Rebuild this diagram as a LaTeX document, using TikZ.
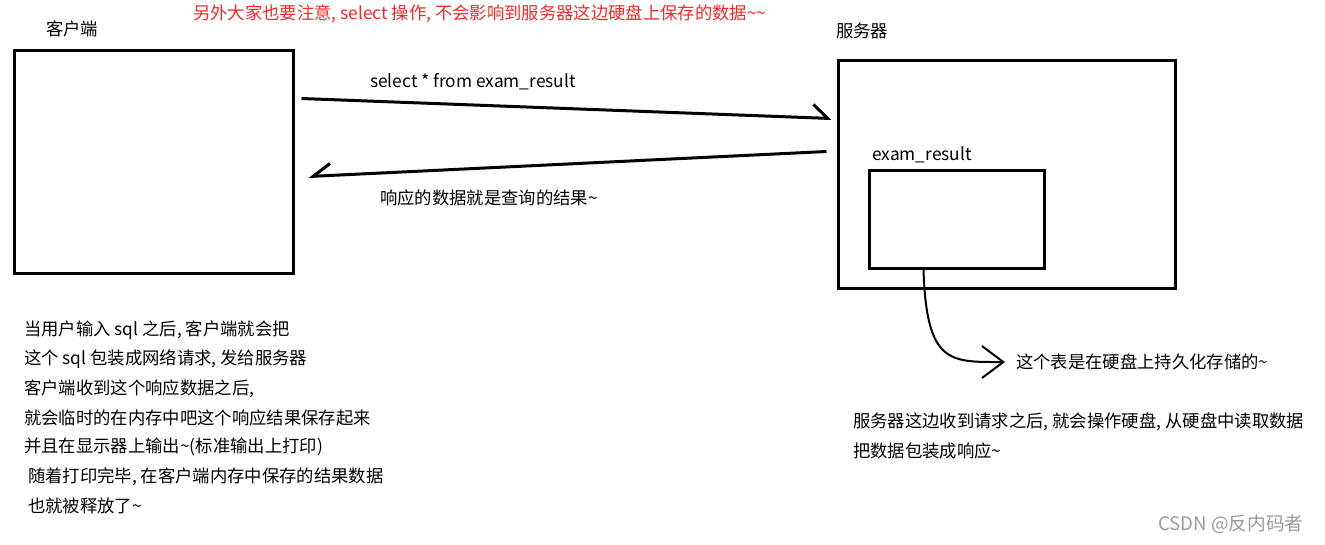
\documentclass[tikz,border=0pt]{standalone}
\usepackage{fontspec}
\setmainfont{Noto Sans CJK SC}
\usetikzlibrary{arrows.meta,calc}
\definecolor{notered}{HTML}{F02828}
\definecolor{markgray}{HTML}{9A9A9A}
\newcommand{\tildechar}{\textasciitilde}

\begin{document}
\begin{tikzpicture}[x=0.75pt, y=-0.75pt,
  every node/.style={font=\fontsize{13}{15}\selectfont, inner sep=0pt},
  box/.style={draw, line width=2.25pt},
  txt/.style={anchor=west}]
  \useasboundingbox (0,0) rectangle (1325,544);

  % --- Boxes ---
  \node[box, minimum width=279*0.75pt, minimum height=223*0.75pt] (client) at (153.5,161.5) {};
  \node[box, minimum width=337*0.75pt, minimum height=228*0.75pt] (server) at (1006.5,174) {};
  \node[box, minimum width=175*0.75pt, minimum height=98*0.75pt] (inner) at (956.5,219) {};

  % --- Labels ---
  \node[txt] (clientLabel) at (46,29) {客户端};
  \node[txt] (serverLabel) at (836,31) {服务器};
  \node[txt] (tableLabel) at (872,155) {exam\_result};
  \node[txt, text=notered] (warnNote) at (193,14) {另外大家也要注意, select 操作, 不会影响到服务器这边硬盘上保存的数据\tildechar\tildechar};
  \node[txt] (reqLabel) at (370,82) {select * from exam\_result};
  \node[txt] (respLabel) at (380,198) {响应的数据就是查询的结果\tildechar};
  \node[txt] (diskNote) at (1016,362) {这个表是在硬盘上持久化存储的\tildechar};

  % --- Request / response ---
  \coordinate (reqStart) at ($(client.north east)+(7,50)$);
  \coordinate (reqEnd) at ($(server.north west)+(-5,60)$);
  \coordinate (respStart) at ($(server.north west)+(-10,93)$);
  \coordinate (respEnd) at ($(client.north east)+(14,128)$);
  \draw[line width=2.25pt, -{Straight Barb[harpoon, length=11pt, width=20pt]}] (reqStart) -- (reqEnd);
  \draw[line width=2.25pt, -{Straight Barb[harpoon, swap, length=13pt, width=18pt]}] (respStart) -- (respEnd);

  % --- Table stored on disk ---
  \coordinate (diskTop) at ($(inner.south west)+(56,0)$);
  \coordinate (diskTip) at ($(diskNote.west)+(-11,0)$);
  \draw[line width=1.5pt, -{Straight Barb[length=16pt, width=24pt]}]
    (diskTop) .. controls +(3,95) and +(-55,0) .. (diskTip);

  % --- Client notes ---
  \node[txt] (cl1) at (24,330) {当用户输入 sql 之后, 客户端就会把};
  \node[txt] (cl2) at (24,359) {这个 sql 包装成网络请求, 发给服务器};
  \node[txt] (cl3) at (24,389) {客户端收到这个响应数据之后,};
  \node[txt] (cl4) at (24,418) {就会临时的在内存中吧这个响应结果保存起来};
  \node[txt] (cl5) at (24,447) {并且在显示器上输出\tildechar(标准输出上打印)};
  \node[txt] (cl6) at (28,477) {随着打印完毕, 在客户端内存中保存的结果数据};
  \node[txt] (cl7) at (28,506) {也就被释放了\tildechar};

  % --- Server notes ---
  \node[txt] (sv1) at (853,422) {服务器这边收到请求之后, 就会操作硬盘, 从硬盘中读取数据};
  \node[txt] (sv2) at (853,451) {把数据包装成响应\tildechar};

  % --- Watermark ---
  \node[txt, text=markgray, font=\fontsize{14}{16}\selectfont] (mark) at (1158,524) {CSDN @反内码者};
\end{tikzpicture}
\end{document}
